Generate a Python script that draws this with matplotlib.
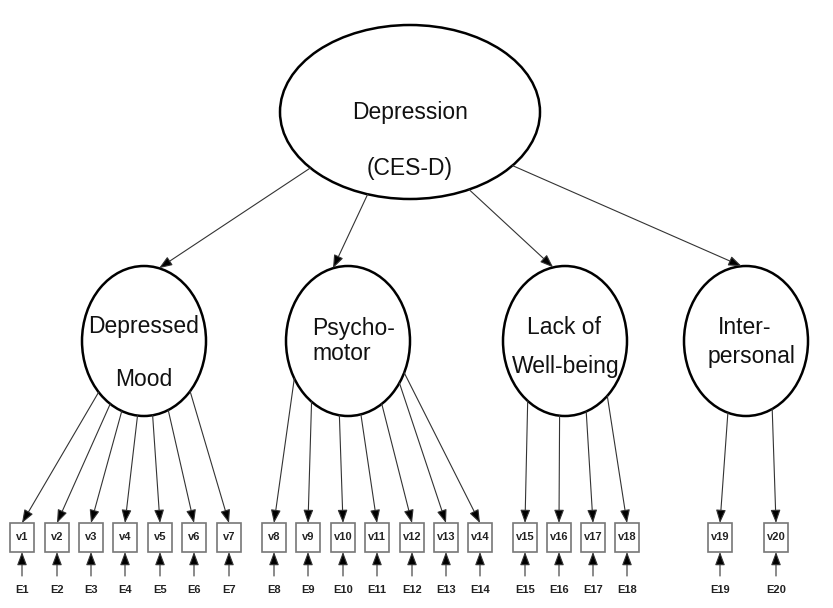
import numpy as np
import matplotlib.pyplot as plt
from matplotlib.patches import Ellipse, Rectangle

# --- labels ---
top_label = ['Depression', '(CES-D)']
factor_labels = [['Depressed', 'Mood'], ['Psycho-', 'motor'], ['Lack of', 'Well-being'], ['Inter-', 'personal']]
item_counts = [7, 7, 4, 2]
item_labels = [f'v{i}' for i in range(1, 21)]
error_labels = [f'E{i}' for i in range(1, 21)]

# --- layout (pixel coordinates, y down) ---
top_center = (410, 112)
top_size = (260, 174)
top_starts = [140, 109, 63, 38]          # angle on top ellipse where each path starts
factor_x = [144, 348, 565, 746]
factor_y = 341
factor_size = (124, 150)
factor_tip_ang = [-76, -104, -101, -94]
box_x = [22, 57, 91, 125, 160, 194, 229,
         274, 308, 343, 377, 412, 446, 480,
         525, 559, 593, 627,
         720, 776]
start_ang = [137, 123, 111, 96, 82, 67, 42,
             150, 126, 98, 78, 57, 34, 25,
             127, 95, 70, 47,
             107, 65]
box_top, box_h, box_w = 523, 29, 24
err_y = 590

font = 'Liberation Sans'


def on_ellipse(c, size, ang):
    t = np.radians(ang)
    return c[0] + size[0] / 2 * np.cos(t), c[1] + size[1] / 2 * np.sin(t)


fig = plt.figure(figsize=(8.33, 6.08), dpi=100)
ax = fig.add_axes([0, 0, 1, 1])
ax.set_xlim(0, 833)
ax.set_ylim(608, 0)
ax.axis('off')

arrow = dict(arrowstyle='-|>,head_length=0.8,head_width=0.3', fc='black', ec='#333333', lw=0.8,
             shrinkA=0, shrinkB=0, mutation_scale=10)

# top ellipse
ax.add_patch(Ellipse(top_center, *top_size, fill=False, lw=1.8, ec='black'))
ax.text(top_center[0], 112, top_label[0], ha='center', va='center', fontsize=16.5, family=font,
        color='#111111')
ax.text(top_center[0], 168, top_label[1], ha='center', va='center', fontsize=16.5, family=font,
        color='#111111')

# factors
label_pos = [[(144, 327), (144, 380)], [(312, 328), (312, 353)],
             [(564, 327), (566, 367)], [(745, 327), (752, 357)]]
for k, fx in enumerate(factor_x):
    c = (fx, factor_y)
    ax.add_patch(Ellipse(c, *factor_size, fill=False, lw=1.8, ec='black'))
    s = on_ellipse(top_center, top_size, top_starts[k])
    e = on_ellipse(c, factor_size, factor_tip_ang[k])
    ax.annotate('', xy=e, xytext=s, arrowprops=arrow)
    for (tx, ty), lab in zip(label_pos[k], factor_labels[k]):
        ha = 'left' if k == 1 else 'center'
        ax.text(tx, ty, lab, ha=ha, va='center', fontsize=16.5, family=font, color='#111111')

# items
idx = 0
for k, n in enumerate(item_counts):
    c = (factor_x[k], factor_y)
    for j in range(n):
        bx = box_x[idx]
        s = on_ellipse(c, factor_size, start_ang[idx])
        ax.annotate('', xy=(bx, box_top), xytext=s, arrowprops=arrow)
        ax.add_patch(Rectangle((bx - box_w / 2, box_top), box_w, box_h, fill=False,
                               ec='#777777', lw=1.2))
        ax.text(bx, box_top + box_h / 2, item_labels[idx], ha='center', va='center',
                fontsize=8, fontweight='bold', family=font, color='#222222')
        ax.annotate('', xy=(bx, box_top + box_h), xytext=(bx, err_y - 14), arrowprops=arrow)
        ax.text(bx, err_y, error_labels[idx], ha='center', va='center',
                fontsize=8, fontweight='bold', family=font, color='#222222')
        idx += 1

fig.savefig('out.png', dpi=100)
